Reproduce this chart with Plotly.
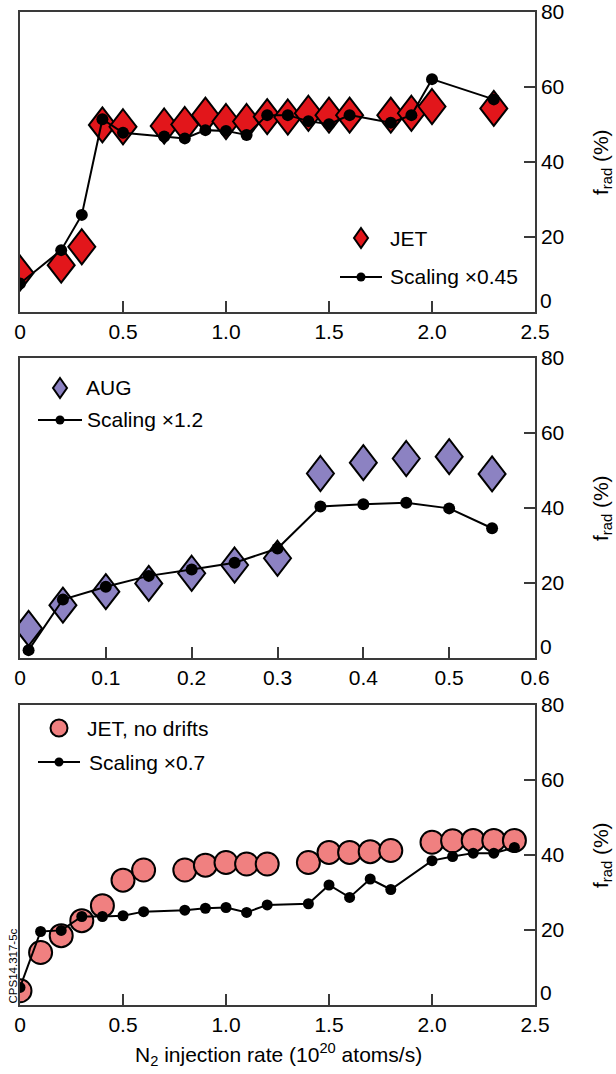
import plotly.graph_objects as go

# ---------------- data ----------------
# Panel 1: JET
jet_x = [0.0, 0.2, 0.3, 0.4, 0.5, 0.7, 0.8, 0.9, 1.0, 1.1, 1.2, 1.3, 1.4, 1.5, 1.6, 1.8, 1.9, 2.0, 2.3]
jet_y = [10.4, 12.5, 17.4, 49.9, 49.4, 49.6, 50.0, 52.5, 50.8, 50.8, 52.1, 52.0, 53.0, 52.5, 52.5, 52.5, 53.0, 54.8, 54.3]
jet_scal_x = [0.0, 0.2, 0.3, 0.4, 0.5, 0.7, 0.8, 0.9, 1.0, 1.1, 1.2, 1.3, 1.4, 1.5, 1.6, 1.8, 1.9, 2.0, 2.3]
jet_scal_y = [7.6, 16.5, 25.9, 51.4, 47.8, 46.8, 46.3, 48.5, 48.3, 47.2, 52.5, 52.5, 50.9, 50.1, 52.5, 50.5, 52.5, 62.1, 56.7]

# Panel 2: AUG
aug_x = [0.01, 0.05, 0.10, 0.15, 0.20, 0.25, 0.30, 0.35, 0.40, 0.45, 0.50, 0.55]
aug_y = [7.9, 14.1, 17.7, 19.9, 22.6, 24.8, 26.6, 49.2, 52.1, 53.2, 53.7, 49.1]
aug_scal_x = [0.01, 0.05, 0.10, 0.15, 0.20, 0.25, 0.30, 0.35, 0.40, 0.45, 0.50, 0.55]
aug_scal_y = [2.1, 15.6, 19.0, 21.9, 23.6, 25.4, 29.2, 40.4, 41.0, 41.4, 39.9, 34.6]

# Panel 3: JET, no drifts
nd_x = [0.0, 0.1, 0.2, 0.3, 0.4, 0.5, 0.6, 0.8, 0.9, 1.0, 1.1, 1.2, 1.4, 1.5, 1.6, 1.7, 1.8, 2.0, 2.1, 2.2, 2.3, 2.4]
nd_y = [3.8, 14.0, 18.5, 22.5, 26.5, 33.3, 36.0, 36.0, 37.3, 38.0, 37.6, 37.6, 38.0, 40.7, 40.7, 40.9, 41.2, 43.4, 43.8, 43.9, 43.9, 43.9]
nd_scal_x = [0.0, 0.1, 0.2, 0.3, 0.4, 0.5, 0.6, 0.8, 0.9, 1.0, 1.1, 1.2, 1.4, 1.5, 1.6, 1.7, 1.8, 2.0, 2.1, 2.2, 2.3, 2.4]
nd_scal_y = [4.7, 19.6, 19.9, 23.6, 23.6, 23.8, 24.9, 25.3, 25.8, 26.0, 24.7, 26.7, 27.0, 32.0, 28.7, 33.6, 30.8, 38.5, 39.6, 40.5, 40.5, 42.0]

x_ticks_jet = [0, 0.5, 1.0, 1.5, 2.0, 2.5]
x_ticklabels_jet = ["0", "0.5", "1.0", "1.5", "2.0", "2.5"]
x_ticks_aug = [0, 0.1, 0.2, 0.3, 0.4, 0.5, 0.6]
x_ticklabels_aug = ["0", "0.1", "0.2", "0.3", "0.4", "0.5", "0.6"]
y_ticks = [0, 20, 40, 60, 80]
y_ticklabels = ["", "20", "40", "60", "80"]

legend_labels = [("JET", "Scaling \u00d70.45"), ("AUG", "Scaling \u00d71.2"), ("JET, no drifts", "Scaling \u00d70.7")]

# ---------------- style ----------------
W, H = 616, 1074
FONT = "Liberation Sans, Arial, sans-serif"
FS = 21
RED = "#E2161B"
PURPLE = "#8C82C2"
PINK = "#F08080"
FRAME = "#3a3a3a"


def px(x):
    return x / W


def py(y):
    return 1 - y / H


x_dom = [px(20), px(535)]
y_doms = [[py(312), py(12)], [py(658), py(358)], [py(1005), py(705)]]

fig = go.Figure()

fig.add_trace(go.Scatter(x=jet_scal_x, y=jet_scal_y, mode="lines+markers",
                         line=dict(color="black", width=2),
                         marker=dict(size=12, color="black"),
                         xaxis="x", yaxis="y", showlegend=False))
fig.add_trace(go.Scatter(x=aug_scal_x, y=aug_scal_y, mode="lines+markers",
                         line=dict(color="black", width=2),
                         marker=dict(size=12, color="black"),
                         xaxis="x2", yaxis="y2", showlegend=False))
fig.add_trace(go.Scatter(x=nd_x, y=nd_y, mode="markers",
                         marker=dict(size=23, color=PINK, line=dict(color="black", width=2)),
                         xaxis="x3", yaxis="y3", showlegend=False))
fig.add_trace(go.Scatter(x=nd_scal_x, y=nd_scal_y, mode="lines+markers",
                         line=dict(color="black", width=2),
                         marker=dict(size=11, color="black"),
                         xaxis="x3", yaxis="y3", showlegend=False))

shapes = []


def diamond_path(hw, hh):
    return f"M0,{hh} L{hw},0 L0,{-hh} L{-hw},0 Z"


for xs, ys, xr, yr, col in [(jet_x, jet_y, "x", "y", RED), (aug_x, aug_y, "x2", "y2", PURPLE)]:
    for xv, yv in zip(xs, ys):
        shapes.append(dict(type="path", xref=xr, yref=yr, xsizemode="pixel", ysizemode="pixel",
                           xanchor=xv, yanchor=yv, path=diamond_path(13.5, 17.5),
                           fillcolor=col, line=dict(color="black", width=2), layer="below"))

leg = [
    dict(sym=(361, 238), line_y=277, line_x=(340, 382), text_x=(389, 389), kind="diamond", col=RED),
    dict(sym=(60, 388), line_y=420, line_x=(38, 82), text_x=(85, 86), kind="diamond", col=PURPLE),
    dict(sym=(59, 728), line_y=762, line_x=(38, 80), text_x=(86, 88), kind="circle", col=PINK),
]
annotations = []
for i, L in enumerate(leg):
    sx, sy = L["sym"]
    if L["kind"] == "diamond":
        shapes.append(dict(type="path", xref="paper", yref="paper", xsizemode="pixel", ysizemode="pixel",
                           xanchor=px(sx), yanchor=py(sy), path=diamond_path(7, 10),
                           fillcolor=L["col"], line=dict(color="black", width=2), layer="above"))
    else:
        shapes.append(dict(type="circle", xref="paper", yref="paper", xsizemode="pixel", ysizemode="pixel",
                           xanchor=px(sx), yanchor=py(sy), x0=-8.5, x1=8.5, y0=-8.5, y1=8.5,
                           fillcolor=L["col"], line=dict(color="black", width=2), layer="above"))
    lx0, lx1 = L["line_x"]
    ly = L["line_y"]
    shapes.append(dict(type="line", xref="paper", yref="paper", x0=px(lx0), x1=px(lx1), y0=py(ly), y1=py(ly),
                       line=dict(color="black", width=2), layer="above"))
    mx = (lx0 + lx1) / 2
    shapes.append(dict(type="circle", xref="paper", yref="paper", xsizemode="pixel", ysizemode="pixel",
                       xanchor=px(mx), yanchor=py(ly), x0=-4.5, x1=4.5, y0=-4.5, y1=4.5,
                       fillcolor="black", line=dict(color="black", width=0), layer="above"))
    t1, t2 = legend_labels[i]
    annotations.append(dict(text=t1, xref="paper", yref="paper", x=px(L["text_x"][0] - 1), y=py(sy),
                            xanchor="left", yanchor="middle", showarrow=False,
                            font=dict(family=FONT, size=FS, color="black")))
    annotations.append(dict(text=t2, xref="paper", yref="paper", x=px(L["text_x"][1] - 1), y=py(ly),
                            xanchor="left", yanchor="middle", showarrow=False,
                            font=dict(family=FONT, size=FS, color="black")))

for k, (yd, yr) in enumerate(zip(y_doms, ["y", "y2", "y3"])):
    annotations.append(dict(text="0", xref="x domain" if k == 0 else f"x{k+1} domain", yref=yr,
                            x=1, y=0, xanchor="left", yanchor="middle", xshift=3, yshift=12,
                            showarrow=False, font=dict(family=FONT, size=FS, color="black")))
    annotations.append(dict(text="f<sub>rad</sub> (%)", xref="paper", yref="paper",
                            x=px(602), y=(yd[0] + yd[1]) / 2, textangle=-90,
                            xanchor="center", yanchor="middle", showarrow=False,
                            font=dict(family=FONT, size=FS, color="black")))

annotations.append(dict(text="N<sub>2</sub> injection rate (10<sup>20</sup> atoms/s)", xref="paper", yref="paper",
                        x=px(278), y=py(1054), xanchor="center", yanchor="middle", showarrow=False,
                        font=dict(family=FONT, size=FS, color="black")))
annotations.append(dict(text="CPS14.317-5c", xref="paper", yref="paper",
                        x=px(12.5), y=py(966), textangle=-90, xanchor="center", yanchor="middle",
                        showarrow=False, font=dict(family=FONT, size=11.5, color="black")))

axis_common = dict(showline=True, linecolor=FRAME, linewidth=1.5, mirror=True, ticks="inside",
                   ticklen=11, tickwidth=1.5, tickcolor=FRAME, showgrid=False, zeroline=False,
                   tickfont=dict(family=FONT, size=FS, color="black"), fixedrange=True,
                   automargin=False)

layout = dict(width=W, height=H, margin=dict(l=0, r=0, t=0, b=0, autoexpand=False),
              paper_bgcolor="white", plot_bgcolor="white", showlegend=False,
              shapes=shapes, annotations=annotations)

xcfg = [(x_ticks_jet, x_ticklabels_jet, [0, 2.5]), (x_ticks_aug, x_ticklabels_aug, [0, 0.6]),
        (x_ticks_jet, x_ticklabels_jet, [0, 2.5])]
for k in range(3):
    xn = "xaxis" if k == 0 else f"xaxis{k+1}"
    yn = "yaxis" if k == 0 else f"yaxis{k+1}"
    tv, tt, rg = xcfg[k]
    layout[xn] = dict(axis_common, domain=x_dom, range=rg, tickvals=tv, ticktext=tt,
                      anchor="y" if k == 0 else f"y{k+1}")
    layout[yn] = dict(axis_common, domain=y_doms[k], range=[0, 80], tickvals=y_ticks, ticktext=y_ticklabels,
                      side="right", anchor="x" if k == 0 else f"x{k+1}")

fig.update_layout(**layout)
fig.write_html("out.html")
